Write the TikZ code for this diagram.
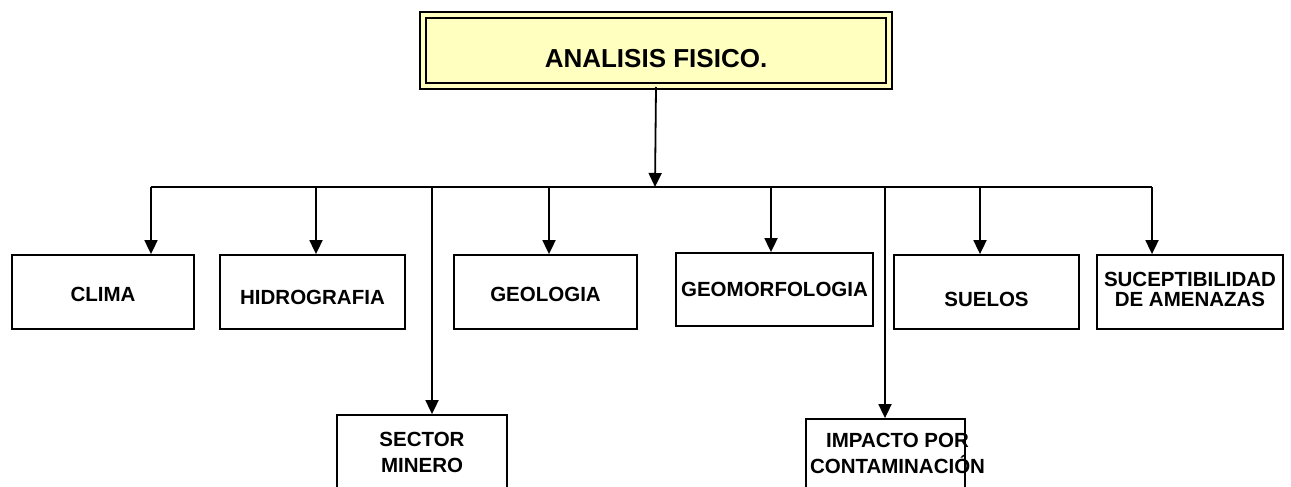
\documentclass[tikz,border=0pt]{standalone}
\usepackage{fontspec}
\setmainfont{Liberation Sans}
\usetikzlibrary{arrows.meta,calc}
\definecolor{titlefill}{RGB}{255,255,192}
\tikzset{
  box/.style={draw, line width=1.8pt, fill=white, inner sep=0pt, font=\bfseries\fontsize{20.5}{21}\selectfont},
  twoline/.style={align=center, font=\bfseries\fontsize{20.5}{26}\selectfont},
  conn/.style={line width=1.8pt},
  arr/.style={line width=1.8pt, -{Triangle[length=14pt,width=13pt]}},
  titlebox/.style={draw, line width=2pt, double=titlefill, double distance=3.5pt, fill=titlefill, inner sep=0pt, font=\bfseries\fontsize{26}{27}\selectfont}
}
\begin{document}
\begin{tikzpicture}[x=1pt,y=-1pt]
\useasboundingbox (0,0) rectangle (1291,487);
\clip (0,0) rectangle (1291,487);
% title
\node[titlebox, minimum width=466pt, minimum height=71pt, text height=33.6pt] (title) at (656,50.5) {ANALISIS FISICO.};
% boxes
\node[box, minimum width=182pt, minimum height=74pt, text height=18.7pt] (clima) at (103,292) {CLIMA};
\node[box, minimum width=185pt, minimum height=74pt, text height=25.7pt] (hidro) at (312.5,292) {HIDROGRAFIA};
\node[box, minimum width=183pt, minimum height=74pt, text height=19.7pt] (geol) at (545.5,292) {GEOLOGIA};
\node[box, minimum width=197pt, minimum height=73pt] (geomorf) at (774.5,289.5) {GEOMORFOLOGIA};
\node[box, minimum width=185pt, minimum height=74pt, text height=29.7pt] (suelos) at (986.5,292) {SUELOS};
\node[box, twoline, font=\bfseries\fontsize{20.5}{20.5}\selectfont, minimum width=186pt, minimum height=74pt, text depth=5pt] (sucept) at (1190,292) {SUCEPTIBILIDAD\\DE AMENAZAS};
\node[box, twoline, minimum width=170pt, minimum height=74pt] (sector) at (422,452) {SECTOR\\MINERO};
\node[box, minimum width=159pt, minimum height=73pt, font=\bfseries\fontsize{20.5}{26}\selectfont] (impacto) at (885.5,455.5) {\makebox[0pt]{\hspace{24pt}\begin{tabular}{@{}c@{}}IMPACTO POR\\[0pt]CONTAMINACI\'{O}N\end{tabular}}};
% bus coordinates
\coordinate (b1) at (151,187);
\coordinate (b2) at (316,187);
\coordinate (b3) at (432,187);
\coordinate (b4) at (549,187);
\coordinate (b5) at (655,187);
\coordinate (b6) at (771,187);
\coordinate (b7) at (885,187);
\coordinate (b8) at (980,187);
\coordinate (b9) at (1152,187);
% connectors
\draw[arr] (title.south) -- (b5);
\draw[conn] (b1) -- (b9);
\draw[arr] (b1) -- (b1 |- clima.north);
\draw[arr] (b2) -- (b2 |- hidro.north);
\draw[arr] (b3) -- (b3 |- sector.north);
\draw[arr] (b4) -- (b4 |- geol.north);
\draw[arr] (b6) -- (b6 |- geomorf.north);
\draw[arr] (b7) -- (b7 |- impacto.north);
\draw[arr] (b8) -- (b8 |- suelos.north);
\draw[arr] (b9) -- (b9 |- sucept.north);
\end{tikzpicture}
\end{document}
